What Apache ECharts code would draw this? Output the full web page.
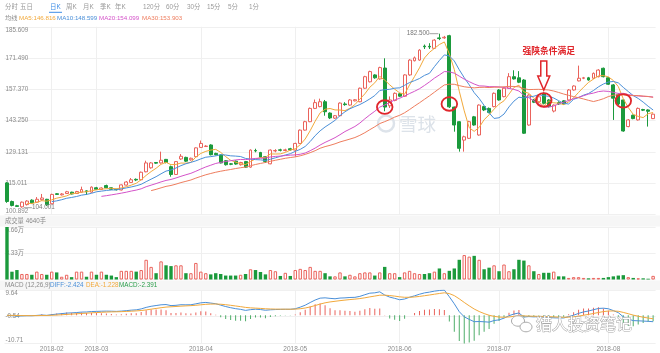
<!DOCTYPE html>
<html>
<head>
<meta charset="utf-8">
<script src="https://cdn.jsdelivr.net/npm/echarts@6/dist/echarts.min.js"></script>
<style>
html, body { margin: 0; padding: 0; background: #fff; }
#main { width: 660px; height: 353px; }
</style>
</head>
<body>
<div id="main"></div>
<script>
// 日K, one entry per trading day (late Jan - mid Aug 2018)
const monthStart = [9, 18, 39, 58, 79, 99, 121];
const monthLabel = ['2018-02', '2018-03', '2018-04', '2018-05', '2018-06', '2018-07', '2018-08'];

const open = [
    115.2, 106.8, 104.9, 104.4, 105.4, 107.4, 106.5, 107.6, 107.8, 105.8,
    110.3, 109.8, 110.4, 111.0, 110.4, 111.0, 111.6, 111.0, 113.0, 112.2,
    114.0, 113.0, 112.3, 112.0, 114.2, 115.4, 116.8, 116.6, 120.2, 122.0,
    124.4, 124.2, 125.8, 122.5, 119.0, 126.0, 126.7, 125.6, 127.0, 131.2,
    131.6, 132.3, 128.5, 127.8, 125.2, 123.8, 125.0, 123.4, 124.8, 122.3,
    129.8, 128.9, 127.0, 123.8, 129.6, 130.1, 129.8, 130.6, 130.0, 133.0,
    139.0, 142.8, 148.8, 149.6, 151.8, 146.7, 144.4, 145.5, 150.8, 150.3,
    152.2, 151.8, 157.9, 160.8, 163.9, 162.1, 167.0, 150.0, 152.4, 155.4,
    154.3, 163.9, 170.3, 170.6, 176.9, 176.8, 175.9, 180.6, 180.6, 181.6,
    149.4, 142.8, 134.5, 135.3, 145.0, 136.8, 149.6, 148.8, 149.6, 157.1,
    154.1, 157.9, 163.1, 162.6, 161.6, 141.3, 152.6, 151.8, 155.6, 152.6,
    147.6, 151.4, 152.2, 152.6, 157.1, 161.2, 162.4, 162.6, 162.4, 163.1,
    166.9, 162.6, 159.4, 155.0, 152.6, 140.6, 145.7, 143.6, 148.3, 148.1,
    144.2
];
const close = [
    106.8, 105.0, 104.6, 106.5, 107.0, 106.2, 107.8, 108.4, 105.3, 110.0,
    110.0, 110.2, 111.2, 110.2, 111.3, 112.2, 111.2, 113.3, 112.3, 112.9,
    113.0, 112.3, 112.1, 114.3, 115.6, 116.6, 116.5, 120.0, 124.2, 124.2,
    124.1, 125.4, 124.4, 119.0, 124.8, 127.2, 125.0, 126.3, 131.0, 133.0,
    131.8, 127.9, 127.9, 124.2, 123.4, 123.6, 123.7, 124.4, 122.3, 130.0,
    129.6, 126.8, 124.9, 130.0, 129.8, 129.9, 130.1, 130.1, 133.0, 139.0,
    142.8, 148.8, 151.4, 151.8, 147.3, 144.5, 145.5, 151.2, 150.5, 152.6,
    152.7, 157.9, 163.1, 165.4, 162.6, 167.2, 149.4, 152.6, 155.6, 154.3,
    163.9, 170.6, 171.6, 175.1, 176.6, 176.5, 179.6, 180.3, 180.9, 149.5,
    141.3, 130.8, 136.0, 142.8, 141.3, 150.3, 148.1, 147.0, 155.6, 152.6,
    157.9, 163.1, 162.1, 160.6, 137.6, 154.8, 151.6, 154.0, 151.1, 149.6,
    150.3, 150.8, 150.8, 157.1, 158.9, 162.4, 162.6, 161.6, 164.6, 166.1,
    163.1, 159.7, 153.4, 150.8, 138.6, 143.6, 144.2, 148.8, 148.0, 147.5,
    146.2
];
const low = [
    106.2, 104.6, 104.4, 104.0, 105.0, 105.8, 106.2, 107.2, 104.8, 105.5,
    109.8, 109.5, 110.2, 110.0, 110.2, 110.8, 109.8, 110.8, 112.0, 112.0,
    112.8, 112.0, 111.8, 111.8, 114.0, 115.2, 116.0, 116.4, 120.0, 121.6,
    123.8, 123.9, 124.0, 118.0, 118.8, 125.6, 124.6, 125.2, 126.8, 131.0,
    131.4, 127.6, 127.6, 124.0, 123.0, 123.2, 123.4, 123.0, 122.0, 122.0,
    129.0, 126.6, 124.2, 123.6, 129.0, 129.4, 129.4, 129.8, 127.0, 132.8,
    138.8, 142.6, 148.5, 149.3, 145.5, 144.0, 144.0, 145.2, 150.0, 150.0,
    152.0, 151.6, 157.6, 160.5, 162.2, 161.8, 147.5, 149.0, 152.0, 154.0,
    154.0, 163.5, 170.0, 170.3, 175.6, 175.6, 175.6, 179.6, 180.2, 149.0,
    138.3, 129.3, 129.3, 135.0, 141.0, 136.5, 147.6, 146.6, 149.3, 152.3,
    153.8, 157.6, 161.8, 160.2, 137.3, 141.0, 151.2, 151.0, 150.6, 149.2,
    147.0, 150.4, 150.5, 152.3, 156.8, 161.0, 162.0, 161.3, 162.1, 162.8,
    162.8, 159.4, 143.6, 150.3, 138.3, 140.3, 143.9, 143.3, 147.6, 140.6,
    144.0
];
const high = [
    115.6, 107.2, 105.3, 106.8, 107.4, 107.8, 108.8, 110.2, 108.0, 110.3,
    110.6, 110.6, 111.6, 111.2, 111.6, 113.5, 111.8, 113.6, 113.4, 113.2,
    114.4, 113.2, 112.5, 114.5, 116.0, 117.4, 117.2, 120.3, 125.2, 124.6,
    124.6, 129.3, 126.0, 123.0, 125.0, 128.2, 127.0, 126.6, 131.2, 134.3,
    132.2, 132.6, 128.8, 128.0, 125.5, 124.1, 125.3, 124.7, 125.0, 130.3,
    130.6, 129.2, 127.2, 130.3, 130.4, 130.6, 130.6, 131.0, 133.3, 139.3,
    143.2, 149.2, 152.8, 153.2, 152.6, 147.0, 145.8, 151.5, 151.6, 153.0,
    153.0, 158.2, 163.5, 165.8, 164.2, 167.6, 171.4, 154.2, 156.0, 155.8,
    164.2, 171.0, 172.2, 175.5, 177.6, 178.2, 180.0, 182.5, 181.5, 182.0,
    149.6, 143.0, 136.5, 143.2, 145.4, 150.6, 150.0, 149.2, 156.0, 157.5,
    158.2, 164.7, 166.0, 165.6, 162.0, 155.2, 153.0, 155.0, 156.0, 153.0,
    150.6, 152.0, 152.5, 157.5, 159.2, 168.1, 163.0, 163.0, 165.0, 166.5,
    167.2, 163.0, 159.8, 155.6, 153.0, 144.0, 146.0, 149.2, 148.6, 148.4,
    146.5
];
// 成交量, 万手
const volume = [
    6.66, 0.99, 1.2, 0.7, 0.7, 0.6, 1.0, 0.7, 0.6, 1.0,
    0.9, 0.35, 0.6, 0.3, 1.0, 1.0, 0.35, 1.0, 0.6, 1.0,
    0.6, 0.5, 0.3, 1.1, 1.1, 1.1, 1.0, 1.2, 2.5, 1.6,
    0.8, 2.3, 1.8, 1.7, 1.8, 1.8, 0.8, 0.8, 2.1, 1.0,
    0.8, 0.65, 0.8, 0.7, 0.5, 0.5, 0.5, 0.6, 0.7, 1.3,
    1.2, 0.95, 0.65, 1.2, 1.05, 0.45, 0.85, 0.45, 1.2, 1.35,
    1.2, 1.6, 1.1, 1.1, 0.8, 0.4, 0.4, 0.9, 0.4, 0.6,
    0.4, 0.8, 0.9, 0.9, 0.5, 0.9, 1.6, 0.8, 0.8, 0.3,
    0.9, 1.1, 0.8, 0.7, 0.7, 0.8, 1.0, 1.4, 0.8, 1.1,
    1.4, 2.5, 3.1, 2.9, 3.0, 2.5, 1.3, 1.5, 1.8, 1.05,
    1.9, 1.05, 1.3, 2.5, 2.4, 1.8, 1.05, 0.7, 0.85, 0.85,
    1.0, 0.4, 0.4, 0.2, 0.3, 0.3, 0.2, 0.15, 0.2, 0.2,
    0.2, 0.3, 0.4, 0.5, 0.55, 0.3, 0.2, 0.15, 0.15, 0.1,
    0.46
];

const priceTicks = ['100.892', '115.011', '129.131', '143.250', '157.370', '171.490', '185.609'];
const volTicks = ['3.33万', '6.66万'];
const macdTicks = ['-10.71', '-0.54', '9.64'];
const maNames = ['MA5', 'MA10', 'MA20', 'MA30'];
const maDays = [5, 10, 20, 30];
const maLast = ['146.816', '148.599', '154.099', '153.903'];
const macdLast = ['-2.424', '-1.228', '-2.391'];
const tabs = ['分时', '五日', '日K', '周K', '月K', '季K', '年K', '120分', '60分', '30分', '15分', '5分', '1分'];

// where the hand-drawn marks sit: [day index, price]
const circles = [[76, 149.4], [89, 150.8], [108, 152.6], [124, 152.2]];
const highMark = [87, 182.5];
const lowMark = [3, 104.001];

const UP = '#ea635c';
const DOWN = '#1b9a3c';
const maColors = ['#f2a93b', '#4a8fd8', '#d453c9', '#ee7d5e'];
const FONT = "'Liberation Sans', 'Noto Sans CJK SC', sans-serif";

const chart = echarts.init(document.getElementById('main'));
const cats = close.map((c, i) => String(i));
const candles = close.map((c, i) => [open[i], c, low[i], high[i]]);

function movingAvg(days) {
    return close.map((c, i) => {
        if (i < days - 1) return '-';
        let s = 0;
        for (let k = i - days + 1; k <= i; k++) s += close[k];
        return +(s / days).toFixed(3);
    });
}

// MACD(12,26,9)
const diff = [], dea = [], macd = [];
let ema12 = close[0], ema26 = close[0], d9 = 0;
close.forEach((c, i) => {
    if (i > 0) {
        ema12 = ema12 * 11 / 13 + c * 2 / 13;
        ema26 = ema26 * 25 / 27 + c * 2 / 27;
    }
    const df = ema12 - ema26;
    d9 = i === 0 ? 0 : d9 * 0.8 + df * 0.2;
    diff.push(+df.toFixed(3));
    dea.push(+d9.toFixed(3));
    macd.push(+(2 * (df - d9)).toFixed(3));
});

function nearest(list, v) {
    let best = list[0];
    list.forEach(t => { if (Math.abs(parseFloat(t) - v) < Math.abs(parseFloat(best) - v)) best = t; });
    return best;
}

const gridSide = { left: 4.5, right: 4.4 };
const monthLines = {
    silent: true,
    symbol: 'none',
    z: 0,
    label: { show: false },
    lineStyle: { color: '#efefef', type: 'solid', width: 1 },
    data: monthStart.map(i => ({ xAxis: i }))
};

function xAxisFor(gridIndex, showLabel) {
    return {
        type: 'category',
        gridIndex,
        data: cats,
        boundaryGap: true,
        axisLine: { show: false },
        axisTick: { show: false },
        splitLine: { show: false },
        axisLabel: {
            show: showLabel,
            interval: (i) => monthStart.indexOf(i) >= 0,
            formatter: (v, i) => monthLabel[monthStart.indexOf(i)] || '',
            color: '#8c8c8c',
            fontSize: 6.5,
            fontFamily: FONT,
            margin: 3
        }
    };
}

function yLabel(extra) {
    return Object.assign({
        inside: true,
        color: '#8a8a8a',
        fontSize: 6.3,
        fontFamily: FONT,
        margin: 1,
        verticalAlignMaxLabel: 'top',
        verticalAlignMinLabel: 'bottom'
    }, extra);
}

const option = {
    animation: false,
    backgroundColor: '#fff',
    grid: [
        Object.assign({ top: 26.8, height: 187.8 }, gridSide),
        Object.assign({ top: 227, height: 52.5 }, gridSide),
        Object.assign({ top: 290, height: 53.4 }, gridSide)
    ],
    xAxis: [xAxisFor(0, false), xAxisFor(1, false), xAxisFor(2, true)],
    yAxis: [
        {
            gridIndex: 0, min: 100.892, max: 185.609, interval: 14.1195,
            axisLine: { show: false }, axisTick: { show: false },
            splitLine: { lineStyle: { color: '#f0f0f0' } },
            axisLabel: yLabel({ formatter: v => nearest(priceTicks, v) })
        },
        {
            gridIndex: 1, min: 0, max: 6.66, interval: 3.33,
            axisLine: { show: false }, axisTick: { show: false },
            splitLine: { lineStyle: { color: '#f0f0f0' } },
            axisLabel: yLabel({ formatter: v => v === 0 ? '' : nearest(volTicks, v) })
        },
        {
            gridIndex: 2, min: -10.71, max: 9.64, interval: 10.175,
            axisLine: { show: false }, axisTick: { show: false },
            splitLine: { lineStyle: { color: '#f0f0f0' } },
            axisLabel: yLabel({ formatter: v => nearest(macdTicks, v) })
        }
    ],
    series: [
        {
            name: '日K',
            type: 'candlestick',
            data: candles,
            barWidth: 3.4,
            z: 3,
            itemStyle: {
                color: '#fff',
                color0: DOWN,
                borderColor: UP,
                borderColor0: DOWN,
                borderWidth: 1
            },
            markLine: monthLines
        },
        ...maNames.map((name, k) => ({
            name,
            type: 'line',
            data: movingAvg(maDays[k]),
            symbol: 'none',
            z: 4,
            lineStyle: { width: 1, color: maColors[k] }
        })),
        {
            name: '成交量',
            type: 'bar',
            xAxisIndex: 1,
            yAxisIndex: 1,
            barWidth: 3.4,
            z: 3,
            data: volume.map((v, i) => ({
                value: v,
                itemStyle: close[i] >= open[i]
                    ? { color: '#fff', borderColor: UP, borderWidth: 1 }
                    : { color: DOWN }
            })),
            markLine: monthLines
        },
        {
            name: 'MACD',
            type: 'bar',
            xAxisIndex: 2,
            yAxisIndex: 2,
            barWidth: 1,
            z: 3,
            data: macd.map(v => ({ value: v, itemStyle: { color: v >= 0 ? UP : '#4fae6a' } })),
            markLine: monthLines
        },
        {
            name: 'DIFF', type: 'line', xAxisIndex: 2, yAxisIndex: 2, data: diff,
            symbol: 'none', z: 4, lineStyle: { width: 1, color: maColors[1] }
        },
        {
            name: 'DEA', type: 'line', xAxisIndex: 2, yAxisIndex: 2, data: dea,
            symbol: 'none', z: 4, lineStyle: { width: 1, color: maColors[0] }
        }
    ]
};
chart.setOption(option);

// ---- texts and hand-drawn marks ----
const px = (i, v) => chart.convertToPixel({ gridIndex: 0 }, [i, v]);
const RED = '#e0262b';

function txt(text, x, y, fill, size, extra) {
    return {
        type: 'text', x, y, z: 20,
        style: Object.assign({
            text, fill, fontSize: size, fontFamily: FONT,
            align: 'left', verticalAlign: 'middle',
            textAlign: 'left', textVerticalAlign: 'middle'
        }, extra || {})
    };
}

const graphics = [];
// header bands of the sub panels
graphics.push({ type: 'rect', z: -1, shape: { x: 0, y: 215.5, width: 660, height: 11 }, style: { fill: '#f6f6f6' } });
graphics.push({ type: 'rect', z: -1, shape: { x: 0, y: 280.5, width: 660, height: 9.5 }, style: { fill: '#f6f6f6' } });

const tabX = [5, 20, 50, 66, 83, 100, 115, 143, 166, 187, 207, 228, 249];
tabs.forEach((t, i) => graphics.push(txt(t, tabX[i], 7, i === 2 ? '#3d8de6' : '#9a9a9a', 6.4)));
graphics.push({ type: 'rect', z: 20, shape: { x: 49, y: 11.8, width: 13, height: 1 }, style: { fill: '#3d8de6' } });

graphics.push(txt('均线', 5, 18.5, '#8a8a8a', 6.2));
const maX = [19, 57, 99, 142];
maNames.forEach((m, k) => graphics.push(txt(m + ':' + maLast[k], maX[k], 18.5, maColors[k], 6.2)));

graphics.push(txt('成交量 4640手', 5, 221.3, '#8a8a8a', 6.3));
graphics.push(txt('MACD (12,26,9)', 5, 285.3, '#8a8a8a', 6.3));
graphics.push(txt('DIFF:' + macdLast[0], 50, 285.3, maColors[1], 6.3));
graphics.push(txt('DEA:' + macdLast[1], 86, 285.3, maColors[0], 6.3));
graphics.push(txt('MACD:' + macdLast[2], 119, 285.3, '#2a9d4a', 6.3));

// max / min price tags
const hp = px(highMark[0], highMark[1]);
graphics.push({ type: 'line', z: 20, shape: { x1: hp[0] - 10, y1: hp[1], x2: hp[0] - 1, y2: hp[1] }, style: { stroke: '#888', lineWidth: 0.8 } });
graphics.push(txt('182.500', hp[0] - 10, hp[1], '#777', 6.3, { align: 'right', textAlign: 'right' }));
const lp = px(lowMark[0], lowMark[1]);
graphics.push({ type: 'line', z: 20, shape: { x1: lp[0] + 2, y1: lp[1], x2: lp[0] + 10, y2: lp[1] }, style: { stroke: '#888', lineWidth: 0.8 } });
graphics.push(txt('104.001', lp[0] + 10, lp[1], '#777', 6.3));

// red circles
circles.forEach(c => {
    const p = px(c[0], c[1]);
    graphics.push({ type: 'ellipse', z: 21, shape: { cx: p[0], cy: p[1], rx: 7.8, ry: 6.8 }, style: { fill: 'none', stroke: RED, lineWidth: 1.8 } });
});

// arrow + note over the third circle
const ap = px(circles[2][0], circles[2][1]);
const ax = ap[0];
graphics.push({
    type: 'polygon', z: 21,
    shape: { points: [[ax - 3, 61], [ax + 3, 61], [ax + 3, 76], [ax + 6, 76], [ax, 90], [ax - 6, 76], [ax - 3, 76]] },
    style: { fill: '#fff', stroke: RED, lineWidth: 1.5 }
});
graphics.push(txt('强陕条件满足', ax + 5, 51.5, RED, 8.8, { fontWeight: 'bold', align: 'center', textAlign: 'center' }));

// watermarks
graphics.push({ type: 'circle', z: 1, shape: { cx: 386, cy: 123.5, r: 8 }, style: { fill: 'none', stroke: '#dde3ea', lineWidth: 2.5 } });
graphics.push(txt('雪球', 399, 124, '#dce2e9', 18.5, { fontFamily: "'Noto Sans CJK SC'" }));
graphics.push({ type: 'ellipse', z: 20, shape: { cx: 518, cy: 321, rx: 6.5, ry: 5.2 }, style: { fill: '#fff', stroke: '#aaa', lineWidth: 1 } });
graphics.push({ type: 'ellipse', z: 20, shape: { cx: 526, cy: 327, rx: 6, ry: 4.8 }, style: { fill: '#fff', stroke: '#aaa', lineWidth: 1 } });
graphics.push(txt('猎人投资笔记', 536, 324, '#fff', 16, { stroke: '#a8a8a8', lineWidth: 1, fontFamily: "'Noto Sans CJK SC'" }));

chart.setOption({ graphic: graphics });
</script>
</body>
</html>
